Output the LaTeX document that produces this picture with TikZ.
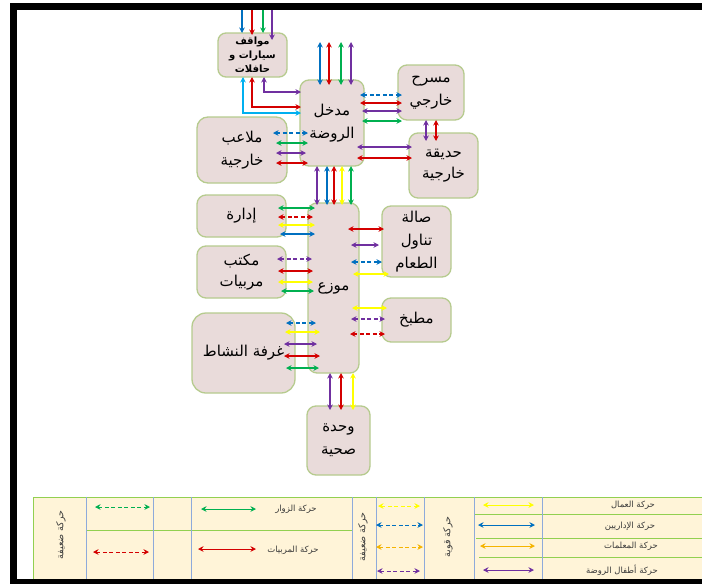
\documentclass[tikz,border=0pt]{standalone}
\usepackage{fontspec}
\usetikzlibrary{arrows.meta,calc}
\TeXXeTstate=1
\newfontfamily\arabicfont[Script=Arabic]{DejaVu Sans}
\newcommand{\artx}[1]{\beginR #1\endR}
\definecolor{cgreen}{HTML}{00B050}
\definecolor{cred}{HTML}{D40000}
\definecolor{cblue}{HTML}{0070C0}
\definecolor{ccyan}{HTML}{00B0F0}
\definecolor{cpurple}{HTML}{7030A0}
\definecolor{cyellow}{HTML}{FFFF00}
\definecolor{corange}{HTML}{F5B400}
\definecolor{boxfill}{HTML}{E9DBDA}
\definecolor{boxline}{HTML}{B6CB8E}
\definecolor{legfill}{HTML}{FFF4D8}
\definecolor{leggreen}{HTML}{92D050}
\definecolor{legblue}{HTML}{8EAADB}
\definecolor{legtext}{HTML}{3A3A3A}
\tikzset{
  room/.style={draw=boxline, fill=boxfill, line width=1.3pt, rounded corners=9pt,
    inner sep=0pt, outer sep=0pt, align=center, text=black,
    font=\arabicfont\fontsize{15}{23}\selectfont},
  fl/.style={line width=1.1pt, {Stealth[length=5.5pt,width=5.5pt]}-{Stealth[length=5.5pt,width=5.5pt]}},
  one/.style={line width=1.1pt, -{Stealth[length=5.5pt,width=5.5pt]}},
  dsh/.style={dash pattern=on 4pt off 2.5pt},
  legline/.style={line width=0.9pt},
  legtxt/.style={font=\arabicfont\fontsize{8.5}{9}\selectfont, text=legtext, inner sep=0pt},
  legrot/.style={font=\arabicfont\fontsize{9.5}{10}\selectfont, text=legtext, inner sep=0pt, rotate=90}
}
\begin{document}
\begin{tikzpicture}[x=1pt,y=-1pt]
\useasboundingbox (0,0) rectangle (702,584);
\fill[white] (0,0) rectangle (702,584);

% ---------- rooms ----------
\node[room, rounded corners=8pt, minimum width=69pt, minimum height=44pt,
  font=\arabicfont\bfseries\fontsize{10}{14}\selectfont] (park) at (252.5,55)
  {\artx{مواقف}\\\artx{سيارات و}\\\artx{حافلات}};
\node[room, minimum width=64pt, minimum height=86pt] (entr) at (332,123)
  {\artx{مدخل}\\\artx{الروضة}};
\node[room, minimum width=66pt, minimum height=55pt] (thea) at (431,92.5)
  {\artx{مسرح}\\\artx{خارجي}};
\node[room, minimum width=69pt, minimum height=65pt, font=\arabicfont\fontsize{15}{21}\selectfont] (gard) at (443.5,165.5)
  {\artx{حديقة}\\\artx{خارجية}};
\node[room, rounded corners=11pt, minimum width=90pt, minimum height=66pt] (play) at (242,150)
  {\artx{ملاعب}\\\artx{خارجية}};
\node[room, minimum width=89pt, minimum height=42pt] (admin) at (241.5,216)
  {\artx{إدارة}};
\node[room, minimum width=89pt, minimum height=52pt, font=\arabicfont\fontsize{15}{21}\selectfont] (office) at (241.5,272)
  {\artx{مكتب}\\\artx{مربيات}};
\node[room, rounded corners=14pt, minimum width=103pt, minimum height=80pt] (act) at (243.5,353)
  {\artx{غرفة النشاط}};
\node[room, minimum width=51pt, minimum height=170pt] (dist) at (333.5,288)
  {\artx{موزع}};
\node[room, minimum width=69pt, minimum height=71pt, font=\arabicfont\fontsize{15}{23}\selectfont] (dining) at (416.5,241.5)
  {\artx{صالة}\\\artx{تناول}\\\artx{الطعام}};
\node[room, minimum width=69pt, minimum height=44pt] (kitchen) at (416.5,320)
  {\artx{مطبخ}};
\node[room, minimum width=63pt, minimum height=69pt] (wc) at (338.5,440.5)
  {\artx{وحدة}\\\artx{صحية}};

% ---------- free ends ----------
\coordinate (topedge) at (0,10);
\coordinate (entop) at (0,42);

% ---------- into car park from outside ----------
\draw[one,cblue]   (242,0 |- topedge) -- (park.north -| 242,0);
\draw[one,cred]    (252,0 |- topedge) -- ([yshift=-2pt]park.north -| 252,0);
\draw[one,cgreen]  (263,0 |- topedge) -- (park.north -| 263,0);
\draw[one,cpurple] (272,0 |- topedge) -- ([yshift=-7pt]park.north -| 272,0);

% ---------- car park <-> entrance ----------
\draw[fl,cpurple] (264,0 |- park.south) |- ([xshift=1pt]entr.west |- 0,92);
\draw[fl,cred]    (252,0 |- park.south) |- ([xshift=1pt]entr.west |- 0,107);
\draw[fl,ccyan]   (243,0 |- park.south) |- ([xshift=1pt]entr.west |- 0,113);

% ---------- entrance <-> outside (top) ----------
\draw[fl,cblue]   (320,0 |- entop) -- ([yshift=-5pt]entr.north -| 320,0);
\draw[fl,cred]    (329,0 |- entop) -- ([yshift=-5pt]entr.north -| 329,0);
\draw[fl,cgreen]  (341,0 |- entop) -- ([yshift=-5pt]entr.north -| 341,0);
\draw[fl,cpurple] (351,0 |- entop) -- ([yshift=-5pt]entr.north -| 351,0);

% ---------- entrance <-> theatre ----------
\draw[fl,dsh,cblue] ([xshift=-4pt]entr.east |- 0,95)  -- ([xshift=4pt]thea.west |- 0,95);
\draw[fl,cred]      ([xshift=-4pt]entr.east |- 0,103) -- ([xshift=4pt]thea.west |- 0,103);
\draw[fl,cpurple]   ([xshift=-2pt]entr.east |- 0,111) -- ([xshift=4pt]thea.west |- 0,111);
\draw[fl,cgreen]    ([xshift=-2pt]entr.east |- 0,121) -- ([xshift=4pt]thea.west |- 0,121);

% ---------- theatre <-> garden ----------
\draw[fl,cpurple] (426,0 |- thea.south) -- ([yshift=-8pt]gard.north -| 426,0);
\draw[fl,cred]    (436,0 |- thea.south) -- ([yshift=-8pt]gard.north -| 436,0);

% ---------- entrance <-> garden ----------
\draw[fl,cpurple] ([xshift=-7pt]entr.east |- 0,147) -- ([xshift=3pt]gard.west |- 0,147);
\draw[fl,cred]    ([xshift=-7pt]entr.east |- 0,158) -- ([xshift=3pt]gard.west |- 0,158);

% ---------- playgrounds <-> entrance ----------
\draw[fl,dsh,cblue] ([xshift=-14pt]play.east |- 0,133) -- ([xshift=8pt]entr.west |- 0,133);
\draw[fl,cgreen]    ([xshift=-11pt]play.east |- 0,143) -- ([xshift=8pt]entr.west |- 0,143);
\draw[fl,cpurple]   ([xshift=-11pt]play.east |- 0,153) -- ([xshift=6pt]entr.west |- 0,153);
\draw[fl,cred]      ([xshift=-11pt]play.east |- 0,163) -- ([xshift=8pt]entr.west |- 0,163);

% ---------- entrance <-> distributor ----------
\draw[fl,cpurple] (317,0 |- entr.south) -- ([yshift=-2pt]dist.north -| 317,0);
\draw[fl,cblue]   (327,0 |- entr.south) -- ([yshift=-2pt]dist.north -| 327,0);
\draw[fl,cred]    (334,0 |- entr.south) -- ([yshift=-2pt]dist.north -| 334,0);
\draw[fl,cyellow] (342,0 |- entr.south) -- ([yshift=-2pt]dist.north -| 342,0);
\draw[fl,cgreen]  (351,0 |- entr.south) -- ([yshift=-2pt]dist.north -| 351,0);

% ---------- administration <-> distributor ----------
\draw[fl,cgreen]   ([xshift=-8pt]admin.east |- 0,208) -- ([xshift=7pt]dist.west |- 0,208);
\draw[fl,dsh,cred] ([xshift=-8pt]admin.east |- 0,217) -- ([xshift=5pt]dist.west |- 0,217);
\draw[fl,cyellow]  ([xshift=-8pt]admin.east |- 0,225) -- ([xshift=7pt]dist.west |- 0,225);
\draw[fl,cblue]    ([xshift=-6pt]admin.east |- 0,234) -- ([xshift=7pt]dist.west |- 0,234);

% ---------- distributor <-> dining ----------
\draw[fl,cred]      ([xshift=-11pt]dist.east |- 0,229) -- ([xshift=2pt]dining.west |- 0,229);
\draw[fl,cpurple]   ([xshift=-8pt]dist.east |- 0,245)  -- ([xshift=-3pt]dining.west |- 0,245);
\draw[fl,dsh,cblue] ([xshift=-8pt]dist.east |- 0,262)  -- (dining.west |- 0,262);
\draw[fl,cyellow]   ([xshift=-6pt]dist.east |- 0,274)  -- ([xshift=7pt]dining.west |- 0,274);

% ---------- office <-> distributor ----------
\draw[fl,dsh,cpurple] ([xshift=-9pt]office.east |- 0,259) -- ([xshift=4pt]dist.west |- 0,259);
\draw[fl,cred]        ([xshift=-8pt]office.east |- 0,271) -- ([xshift=5pt]dist.west |- 0,271);
\draw[fl,cyellow]     ([xshift=-8pt]office.east |- 0,282) -- ([xshift=5pt]dist.west |- 0,282);
\draw[fl,cgreen]      ([xshift=-5pt]office.east |- 0,291) -- ([xshift=6pt]dist.west |- 0,291);

% ---------- distributor <-> kitchen ----------
\draw[fl,cyellow]     ([xshift=-7pt]dist.east |- 0,308) -- ([xshift=5pt]kitchen.west |- 0,308);
\draw[fl,dsh,cpurple] ([xshift=-8pt]dist.east |- 0,319) -- ([xshift=3pt]kitchen.west |- 0,319);
\draw[fl,dsh,cred]    ([xshift=-9pt]dist.east |- 0,334) -- ([xshift=3pt]kitchen.west |- 0,334);

% ---------- activity room <-> distributor ----------
\draw[fl,dsh,cblue] ([xshift=-9pt]act.east |- 0,323)  -- ([xshift=8pt]dist.west |- 0,323);
\draw[fl,cyellow]   ([xshift=-10pt]act.east |- 0,332) -- ([xshift=12pt]dist.west |- 0,332);
\draw[fl,cpurple]   ([xshift=-11pt]act.east |- 0,344) -- ([xshift=9pt]dist.west |- 0,344);
\draw[fl,cred]      ([xshift=-11pt]act.east |- 0,356) -- ([xshift=12pt]dist.west |- 0,356);
\draw[fl,cgreen]    ([xshift=-9pt]act.east |- 0,368)  -- ([xshift=11pt]dist.west |- 0,368);

% ---------- distributor <-> toilets ----------
\draw[fl,cpurple] (330,0 |- dist.south) -- ([yshift=-4pt]wc.north -| 330,0);
\draw[fl,cred]    (341,0 |- dist.south) -- ([yshift=-4pt]wc.north -| 341,0);
\draw[fl,cyellow] (353,0 |- dist.south) -- ([yshift=-4pt]wc.north -| 353,0);

% ---------- legend ----------
\fill[legfill] (33,497) rectangle (702,579);
\draw[leggreen,line width=1pt] (33,579) -- (33,497) -- (702,497);
\draw[leggreen,line width=1pt] (86,530) -- (352,530);
\draw[leggreen,line width=1pt] (474,514) -- (702,514);
\draw[leggreen,line width=1pt] (476,538) -- (702,538);
\draw[leggreen,line width=1pt] (479,557) -- (702,557);
\foreach \xx in {86,153,191,352,376,424,474,542}
  \draw[legblue,line width=0.8pt] (\xx,497) -- (\xx,579);

\node[legrot] (lg1) at (61,535) {\artx{حركة ضعيفة}};
\node[legrot] (lg2) at (363,537) {\artx{حركة ضعيفة}};
\node[legrot] (lg3) at (448,537) {\artx{حركة قوية}};

\draw[fl,dsh,cgreen,legline] (95,507) -- (150,507);
\draw[fl,dsh,cred,legline]   (93,552) -- (149,552);
\draw[fl,cgreen,legline]     (201,509) -- (256,509);
\draw[fl,cred,legline]       (198,549) -- (256,549);
\node[legtxt] (t1) at (296,509) {\artx{حركة الزوار}};
\node[legtxt] (t2) at (293,550) {\artx{حركة المربيات}};

\draw[fl,dsh,cyellow,legline] (378,506) -- (420,506);
\draw[fl,dsh,cblue,legline]   (376,525) -- (423,525);
\draw[fl,dsh,corange,legline] (376,547) -- (423,547);
\draw[fl,dsh,cpurple,legline] (377,571) -- (420,571);
\draw[fl,cyellow,legline] (483,505) -- (534,505);
\draw[fl,cblue,legline]   (478,525) -- (535,525);
\draw[fl,corange,legline] (480,546) -- (535,546);
\draw[fl,cpurple,legline] (483,570) -- (534,570);
\node[legtxt] (t3) at (633,505) {\artx{حركة العمال}};
\node[legtxt] (t4) at (630,526) {\artx{حركة الإداريين}};
\node[legtxt] (t5) at (631,546) {\artx{حركة المعلمات}};
\node[legtxt] (t6) at (622,570) {\artx{حركة أطفال الروضة}};

% ---------- black frame ----------
\fill[black] (10,3) rectangle (702,10);
\fill[black] (10,3) rectangle (17,584);
\fill[black] (10,579) rectangle (702,584);
\end{tikzpicture}
\end{document}
